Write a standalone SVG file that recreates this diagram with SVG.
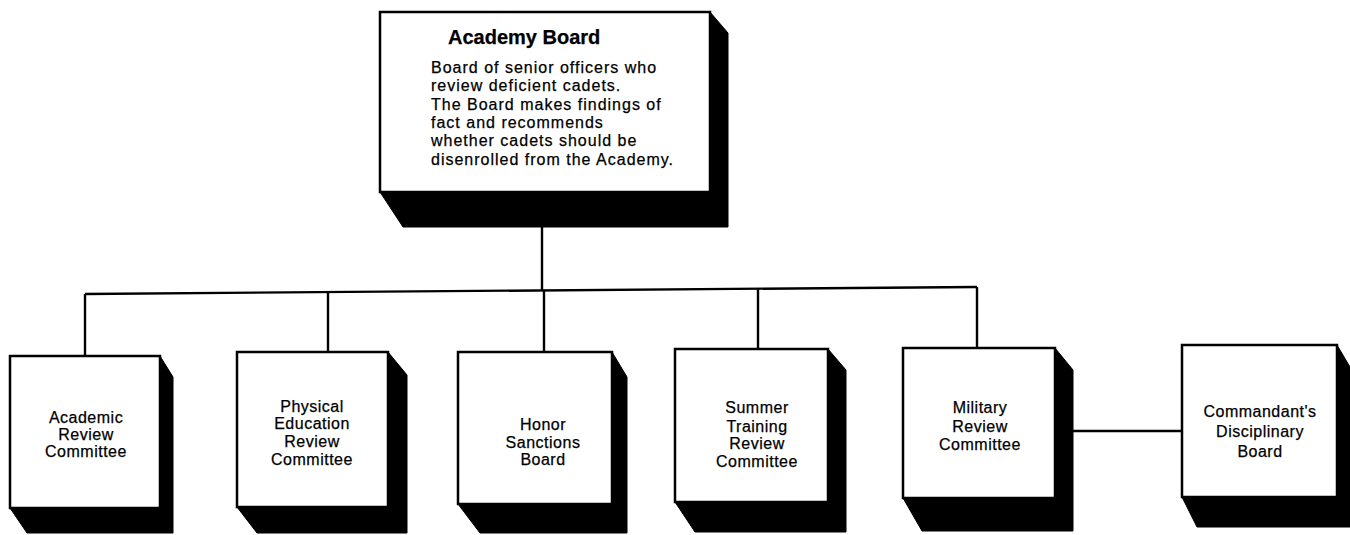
<svg xmlns="http://www.w3.org/2000/svg" width="1350" height="535" viewBox="0 0 1350 535">
<style>
.box{fill:#fff;stroke:#000;stroke-width:2.5}
.sh{fill:#000;stroke:#000;stroke-width:1;stroke-linejoin:round}
.ln{fill:none;stroke:#000;stroke-width:2.4}
.t{font-family:"Liberation Sans",Arial,Helvetica,sans-serif;font-size:16px;letter-spacing:0.5px;fill:#000;stroke:#000;stroke-width:0.25}
.c{text-anchor:middle}
.b{font-weight:bold;font-size:20px;letter-spacing:0}
.d{letter-spacing:1px}
</style>
<rect x="0" y="0" width="1350" height="535" fill="#fff"/>
<g id="connectors">
<line class="ln" x1="542" y1="226" x2="542" y2="291"/>
<line class="ln" x1="85" y1="294" x2="977" y2="287"/>
<line class="ln" x1="85" y1="294" x2="85" y2="356"/>
<line class="ln" x1="328" y1="292" x2="328" y2="352"/>
<line class="ln" x1="544" y1="290" x2="544" y2="352"/>
<line class="ln" x1="758" y1="288" x2="758" y2="349"/>
<line class="ln" x1="977" y1="287" x2="977" y2="348"/>
<line class="ln" x1="1072" y1="431" x2="1182" y2="431"/>
</g>
<g id="academy-board">
<polygon class="sh" points="380,192 403,227 728,227 728,33 710,12"/>
<rect class="box" x="380" y="12" width="330" height="180"/>
<text class="t b" x="448" y="44">Academy Board</text>
<text class="t d" x="431" y="73">Board of senior officers who</text>
<text class="t d" x="431" y="91">review deficient cadets.</text>
<text class="t d" x="431" y="110">The Board makes findings of</text>
<text class="t d" x="431" y="128">fact and recommends</text>
<text class="t d" x="431" y="146">whether cadets should be</text>
<text class="t d" x="431" y="165">disenrolled from the Academy.</text>
</g>
<g id="academic-review">
<polygon class="sh" points="10,508 27,533 173,533 173,377 160,356"/>
<rect class="box" x="10" y="356" width="150" height="152"/>
<text class="t c" x="86" y="423">Academic</text>
<text class="t c" x="86" y="440">Review</text>
<text class="t c" x="86" y="457">Committee</text>
</g>
<g id="physical-education">
<polygon class="sh" points="237,507 257,533 407,533 407,375 388,352"/>
<rect class="box" x="237" y="352" width="151" height="155"/>
<text class="t c" x="312" y="412">Physical</text>
<text class="t c" x="312" y="429">Education</text>
<text class="t c" x="312" y="447">Review</text>
<text class="t c" x="312" y="465">Committee</text>
</g>
<g id="honor-sanctions">
<polygon class="sh" points="458,504 480,533 627,533 627,377 612,352"/>
<rect class="box" x="458" y="352" width="154" height="152"/>
<text class="t c" x="543" y="430">Honor</text>
<text class="t c" x="543" y="448">Sanctions</text>
<text class="t c" x="543" y="465">Board</text>
</g>
<g id="summer-training">
<polygon class="sh" points="675,502 695,532 846,532 846,370 828,349"/>
<rect class="box" x="675" y="349" width="153" height="153"/>
<text class="t c" x="757" y="413">Summer</text>
<text class="t c" x="757" y="432">Training</text>
<text class="t c" x="757" y="449">Review</text>
<text class="t c" x="757" y="467">Committee</text>
</g>
<g id="military-review">
<polygon class="sh" points="903,498 922,531 1073,531 1073,370 1055,348"/>
<rect class="box" x="903" y="348" width="152" height="150"/>
<text class="t c" x="980" y="413">Military</text>
<text class="t c" x="980" y="432">Review</text>
<text class="t c" x="980" y="450">Committee</text>
</g>
<g id="commandants-disciplinary">
<polygon class="sh" points="1182,497 1197,527 1350,527 1350,367 1337,345"/>
<rect class="box" x="1182" y="345" width="155" height="152"/>
<text class="t c" x="1260" y="417">Commandant's</text>
<text class="t c" x="1260" y="437">Disciplinary</text>
<text class="t c" x="1260" y="457">Board</text>
</g>
</svg>
